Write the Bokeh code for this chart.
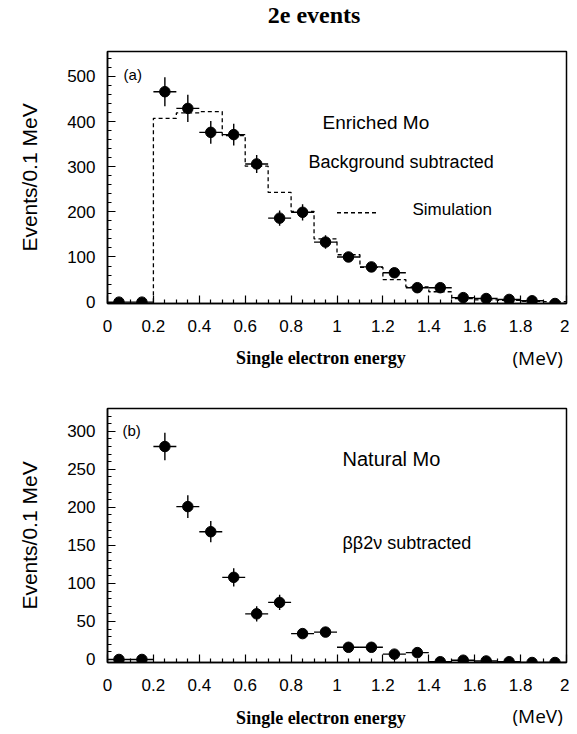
from bokeh.plotting import figure
from bokeh.layouts import column
from bokeh.models import FixedTicker, SingleIntervalTicker, Label, ColumnDataSource
from bokeh.embed import file_html
from bokeh.resources import INLINE

# ---------------- data ----------------
energy = [0.05, 0.15, 0.25, 0.35, 0.45, 0.55, 0.65, 0.75, 0.85, 0.95,
          1.05, 1.15, 1.25, 1.35, 1.45, 1.55, 1.65, 1.75, 1.85, 1.95]
bin_half_width = 0.05

enriched_counts = [0, 0, 466, 429, 376, 371, 306, 186, 199, 133,
                   100, 78, 65, 32, 32, 10, 8, 6, 3, -3]
enriched_err = [0, 0, 32, 30, 25, 24, 20, 17, 18, 15,
                9, 8, 7, 6, 6, 4, 4, 3, 3, 3]

sim_edges = [0.2, 0.3, 0.4, 0.5, 0.6, 0.7, 0.8, 0.9, 1.0, 1.1,
             1.2, 1.3, 1.4, 1.5, 1.6, 1.7, 1.8, 1.9, 2.0]
sim_counts = [407, 419, 422, 369, 301, 243, 201, 140, 105, 77,
              50, 34, 23, 8, 5, 4, 2, 1]

natural_counts = [0, 0, 280, 201, 168, 108, 60, 75, 34, 36,
                  16, 16, 7, 9, -3, -1, -2, -3, -4, -4]
natural_err = [0, 0, 18, 15, 14, 12, 10, 10, 5, 6,
               3, 3, 3, 3, 2, 2, 2, 2, 2, 2]

x_ticks = [0, 0.2, 0.4, 0.6, 0.8, 1, 1.2, 1.4, 1.6, 1.8, 2]
x_tick_labels = ["0", "0.2", "0.4", "0.6", "0.8", "1", "1.2", "1.4", "1.6", "1.8", "2"]
x_minor_ticks = [0.05, 0.1, 0.15, 0.25, 0.3, 0.35, 0.45, 0.5, 0.55, 0.65, 0.7, 0.75,
                 0.85, 0.9, 0.95, 1.05, 1.1, 1.15, 1.25, 1.3, 1.35, 1.45, 1.5, 1.55,
                 1.65, 1.7, 1.75, 1.85, 1.9, 1.95]

SANS = "Liberation Sans"
SERIF = "Liberation Serif"


def make_panel(counts, errs, y_start, y_end, y_major, fh, bt, bb):
    p = figure(frame_width=459, frame_height=fh, x_range=(0, 2), y_range=(y_start, y_end),
               output_backend="svg", toolbar_location=None,
               min_border_left=107, min_border_right=3, min_border_top=bt, min_border_bottom=bb,
               background_fill_color="white", border_fill_color="white")
    p.xgrid.visible = False
    p.ygrid.visible = False
    p.outline_line_color = "black"
    p.outline_line_width = 1.5

    p.xaxis.ticker = FixedTicker(ticks=x_ticks, minor_ticks=x_minor_ticks)
    p.xaxis.major_label_overrides = {t: l for t, l in zip(x_ticks, x_tick_labels)}
    p.yaxis.ticker = SingleIntervalTicker(interval=y_major, num_minor_ticks=5)
    for ax in (p.xaxis[0], p.yaxis[0]):
        ax.axis_line_color = "black"
        ax.axis_line_width = 1.5
        ax.major_tick_in = 8
        ax.major_tick_out = 0
        ax.minor_tick_in = 4
        ax.minor_tick_out = 0
        ax.major_tick_line_width = 1.2
        ax.minor_tick_line_width = 1.2
        ax.major_tick_line_color = "black"
        ax.minor_tick_line_color = "black"
        ax.major_label_text_font = SANS
        ax.major_label_text_font_size = "17px"
        ax.major_label_text_color = "black"
    p.xaxis.major_label_standoff = 16
    p.yaxis.major_label_standoff = 12
    p.yaxis.axis_label = "Events/0.1 MeV"
    p.yaxis.axis_label_text_font = SANS
    p.yaxis.axis_label_text_font_size = "21px"
    p.yaxis.axis_label_text_font_style = "normal"
    p.yaxis.axis_label_text_color = "black"
    p.yaxis.axis_label_standoff = 23

    src = ColumnDataSource(dict(
        x=energy, y=counts,
        x0=[e - bin_half_width for e in energy], x1=[e + bin_half_width for e in energy],
        y0=[c - s for c, s in zip(counts, errs)], y1=[c + s for c, s in zip(counts, errs)],
    ))
    p.segment(x0="x0", y0="y", x1="x1", y1="y", source=src, line_color="black", line_width=1.4)
    p.segment(x0="x", y0="y0", x1="x", y1="y1", source=src, line_color="black", line_width=1.4)
    p.scatter(x="x", y="y", source=src, size=10.5, color="black")
    return p


def txt(p, x, y, t, size, font=SANS, style="normal", align="left", place="center"):
    lab = Label(x=x, y=y, text=t, text_font=font, text_font_size=size,
                text_font_style=style, text_align=align, text_baseline="middle",
                text_color="black")
    p.add_layout(lab, place)


# ---------------- panel (a) ----------------
pa = make_panel(enriched_counts, enriched_err, -3, 555, 100, 252, 51, 67)
step_x = [sim_edges[0]] + sim_edges
step_y = [0] + sim_counts + [sim_counts[-1]]
pa.step(x=step_x, y=step_y, mode="after", line_color="black", line_width=1.3, line_dash="4 3")
pa.line(x=[1.0, 1.18], y=[198, 198], line_color="black", line_width=1.3, line_dash="4 3")

txt(pa, 0.07, 504, "(a)", "15px")
txt(pa, 0.937, 397, "Enriched Mo", "19px")
txt(pa, 0.876, 311, "Background subtracted", "18px")
txt(pa, 1.329, 205, "Simulation", "17px")
# texts outside the frame live in side panels (so they are not clipped)
txt(pa, 0.90, 635, "2e events", "24px", font=SERIF, style="bold", align="center", place="above")
txt(pa, 0.93, -123, "Single electron energy", "18px", font=SERIF, style="bold", align="center", place="above")
txt(pa, 1.874, -123, "(MeV)", "19px", font="Open Sans", align="center", place="below")

# ---------------- panel (b) ----------------
pb = make_panel(natural_counts, natural_err, -4, 330, 50, 254, 38, 71)
txt(pb, 0.065, 301, "(b)", "15px")
txt(pb, 1.024, 264, "Natural Mo", "20px")
txt(pb, 1.024, 153, "\u03b2\u03b22\u03bd subtracted", "18px")
txt(pb, 0.93, -77, "Single electron energy", "18px", font=SERIF, style="bold", align="center", place="below")
txt(pb, 1.874, -74, "(MeV)", "19px", font="Open Sans", align="center", place="above")

layout = column(pa, pb, spacing=0)
open("out.html", "w").write(file_html(layout, INLINE))
